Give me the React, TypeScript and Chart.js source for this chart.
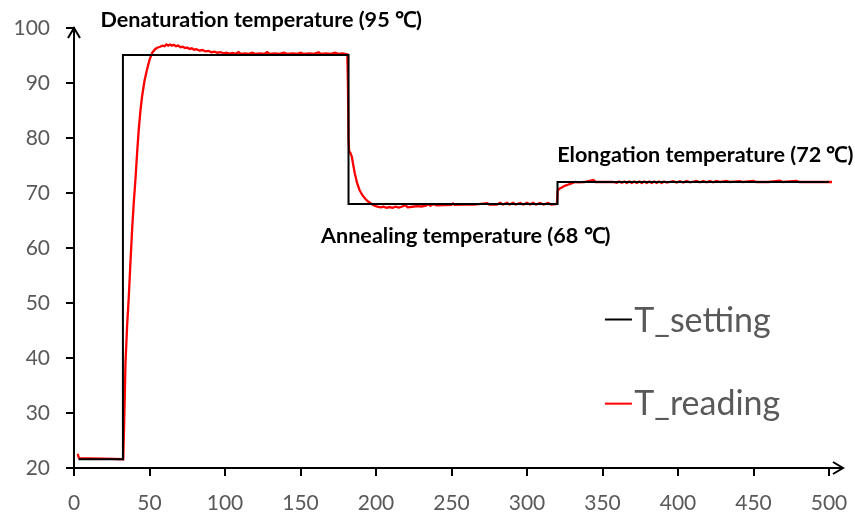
import React, { useEffect, useRef } from "react";
import { Chart, registerables } from "chart.js";

Chart.register(...registerables);

// ---- data ----
const xMin = 0;
const xMax = 500;
const xStep = 50;
const yMin = 20;
const yMax = 100;
const yStep = 10;

const seriesNames = ["T_setting", "T_reading"];

// T_setting (step profile)
const settingX = [3, 32.4, 32.4, 181.8, 181.8, 320.2, 320.2, 500];
const settingY = [21.6, 21.6, 95.1, 95.1, 68.0, 68.0, 72.0, 72.0];

// T_reading segments [x, y]
const readingStart = [[2.5, 22.6], [3, 22.0], [3.5, 21.8], [10, 21.75], [20, 21.7], [32.6, 21.6]];
const readingHeatUp = [[33.2, 28], [34.1, 39.1], [35.2, 46], [36.3, 51.2], [37.4, 57.5], [38.5, 63.4], [39.6, 68.3], [40.7, 72.5], [41.8, 77.3], [42.9, 81.6], [44, 85], [45.1, 87.6], [46.7, 90.4], [48.4, 92.5], [50, 94.2], [51.8, 95.5], [53.5, 96.1], [55.1, 96.4]];
const readingDenature = [[57, 96.6], [58.5, 96.8], [60, 96.7], [61.2, 97.0], [62.4, 96.8], [63.6, 97.0], [64.8, 96.8], [66, 96.95], [67.5, 96.7], [69, 96.8], [70.5, 96.5], [72, 96.6], [73.5, 96.35], [75, 96.45], [76.5, 96.2], [78, 96.3], [79.5, 96.05], [81, 96.15], [83, 95.9], [85, 96.0], [87, 95.75], [89, 95.85], [91, 95.6], [93, 95.7], [95, 95.5], [97, 95.6], [99, 95.4], [101, 95.5], [103, 95.35], [105, 95.45], [107, 95.3], [109, 95.6], [110.5, 95.3], [113, 95.4], [116, 95.3], [118, 95.5], [120, 95.3], [123, 95.4], [126, 95.3], [128, 95.6], [129.5, 95.3], [133, 95.4], [136, 95.3], [139, 95.5], [141, 95.3], [145, 95.4], [148, 95.3], [150, 95.5], [152, 95.3], [156, 95.4], [159, 95.3], [162, 95.6], [163.5, 95.3], [167, 95.4], [170, 95.3], [173, 95.5], [175, 95.3], [178, 95.4], [181, 95.2]];
const readingAnneal = [[181.4, 90], [181.8, 80], [182.2, 77.6], [183, 77.3], [184, 76.6], [185, 75], [186, 73.5], [187.5, 71.8], [189, 70.6], [191, 69.6], [193, 68.9], [195, 68.4], [197, 68.0], [199, 67.7], [201, 67.5], [203, 67.4], [205, 67.5], [207, 67.3], [209, 67.45], [211, 67.3], [213, 67.5], [215, 67.35], [217, 67.5], [219.5, 67.8], [221, 67.4], [224, 67.5], [227, 67.6], [230, 67.55], [233, 67.7], [234.7, 67.95], [236, 67.7], [238, 67.95], [240, 67.75], [245, 67.8], [250, 67.85], [251, 68.1], [252, 67.85], [258, 67.9], [265, 67.9], [273.7, 68.15], [275, 67.9], [280, 67.9], [282.3, 68.2], [284, 67.9], [286.8, 68.2], [288.5, 67.9], [290.8, 68.2], [292.5, 67.9], [295.5, 68.2], [297.5, 67.9], [300, 68.2], [302, 67.9], [304, 68.2], [306, 67.9], [308.6, 68.2], [311, 67.9], [313.9, 68.2], [316, 67.9], [319.8, 68.0]];
const readingElong = [[320.3, 70.4], [321.5, 70.8], [323, 71.0], [325, 71.3], [327, 71.5], [329, 71.7], [331.9, 72.0], [334, 71.95], [338, 72.0], [344, 72.35], [345.5, 72.0], [352, 72.0], [357, 72.0], [359.5, 71.85], [361, 72.1], [362.8, 71.85], [364.5, 72.1], [366.1, 71.85], [367.8, 72.1], [369.4, 71.85], [371, 72.1], [372.7, 71.85], [374.4, 72.1], [376, 71.85], [377.7, 72.1], [379.3, 71.85], [381, 72.1], [382.6, 71.85], [384.2, 72.1], [385.9, 71.85], [387.5, 72.1], [389.2, 71.85], [390.8, 72.1], [392.5, 71.9], [396.9, 72.15], [399, 71.9], [401.3, 72.15], [403.5, 71.9], [405.7, 72.2], [408, 71.95], [412.3, 72.2], [414.5, 71.95], [416.7, 72.2], [419, 71.95], [421.1, 72.2], [423.3, 71.95], [425.6, 72.2], [428, 72.0], [432.2, 72.2], [434.5, 72.0], [441, 72.15], [443, 72.0], [449.8, 72.2], [452, 72.0], [460, 72.0], [467.5, 72.25], [469.5, 72.0], [478.5, 72.2], [480.5, 72.0], [490, 72.0], [502, 72.0]];

const annotationTexts = [
  "Denaturation temperature (95 \u2103)",
  "Annealing temperature (68 \u2103)",
  "Elongation temperature (72 \u2103)",
];

const FONT = 'Lato, "Open Sans", sans-serif';
const GREY = "#595959";

const overlayPlugin = {
  id: "overlay",
  afterDraw(chart: any) {
    const { ctx, chartArea, scales } = chart;
    const { left, right, top, bottom } = chartArea;
    const sx = scales.x;
    const sy = scales.y;
    ctx.save();
    ctx.strokeStyle = "#000";
    ctx.lineWidth = 2;
    ctx.lineCap = "butt";
    // y axis arrow head
    ctx.beginPath();
    ctx.moveTo(left - 6, top + 10);
    ctx.lineTo(left, top);
    ctx.lineTo(left + 6, top + 10);
    ctx.stroke();
    // x axis extension + arrow head
    ctx.beginPath();
    ctx.moveTo(right, bottom);
    ctx.lineTo(right + 14, bottom);
    ctx.stroke();
    ctx.beginPath();
    ctx.moveTo(right + 4, bottom - 6);
    ctx.lineTo(right + 14, bottom);
    ctx.lineTo(right + 4, bottom + 6);
    ctx.stroke();

    // annotations
    ctx.fillStyle = "#000";
    ctx.font = `bold 21.6px ${FONT}`;
    ctx.textAlign = "left";
    ctx.textBaseline = "alphabetic";
    const anchors = [
      [17.5, 100.2],
      [163.6, 60.9],
      [320, 75.6],
    ];
    annotationTexts.forEach((t, i) => {
      ctx.fillText(t, sx.getPixelForValue(anchors[i][0]), sy.getPixelForValue(anchors[i][1]));
    });

    // legend
    const colors = ["#000000", "#FF0000"];
    const legendY = [47.0, 31.7];
    const legendBase = [44.8, 29.65];
    ctx.font = `34px ${FONT}`;
    ctx.fillStyle = GREY;
    seriesNames.forEach((n, i) => {
      const ly = sy.getPixelForValue(legendY[i]);
      ctx.strokeStyle = colors[i];
      ctx.lineWidth = 2;
      ctx.beginPath();
      ctx.moveTo(sx.getPixelForValue(351.6), ly);
      ctx.lineTo(sx.getPixelForValue(369.5), ly);
      ctx.stroke();
      ctx.fillText(n, sx.getPixelForValue(371.0), sy.getPixelForValue(legendBase[i]));
    });
    ctx.restore();
  },
};

export default function App() {
  const ref = useRef<HTMLCanvasElement>(null);
  useEffect(() => {
    if (!ref.current) return;
    const settingData = settingX.map((x, i) => ({ x, y: settingY[i] }));
    const readingData = [...readingStart, ...readingHeatUp, ...readingDenature, ...readingAnneal, ...readingElong].map(
      ([x, y]) => ({ x, y })
    );
    const chart = new Chart(ref.current, {
      type: "line",
      data: {
        datasets: [
          {
            label: seriesNames[0],
            data: settingData,
            borderColor: "#000000",
            borderWidth: 2,
            pointRadius: 0,
            tension: 0,
            clip: false,
          },
          {
            label: seriesNames[1],
            data: readingData,
            borderColor: "#FF0000",
            borderWidth: 2.3,
            pointRadius: 0,
            tension: 0,
            clip: false,
          },
        ],
      },
      options: {
        responsive: false,
        animation: false,
        layout: { padding: { top: 28, right: 26, left: 0, bottom: 0 } },
        plugins: { legend: { display: false }, tooltip: { enabled: false } },
        scales: {
          x: {
            type: "linear",
            min: xMin,
            max: xMax,
            afterFit: (s: any) => {
              s.height = 44;
              s.paddingLeft = 0;
              s.paddingRight = 0;
            },
            ticks: { stepSize: xStep, color: GREY, font: { family: FONT, size: 21 }, padding: 15, autoSkip: false, maxRotation: 0 },
            grid: { display: true, drawOnChartArea: false, drawTicks: true, tickLength: 8, color: "#000", lineWidth: 2 },
            border: { display: true, color: "#000", width: 2 },
          },
          y: {
            type: "linear",
            min: yMin,
            max: yMax,
            afterFit: (s: any) => {
              s.width = 74;
              s.paddingTop = 0;
              s.paddingBottom = 0;
            },
            ticks: { stepSize: yStep, color: GREY, font: { family: FONT, size: 21 }, padding: 16 },
            grid: { display: true, drawOnChartArea: false, drawTicks: true, tickLength: 8, color: "#000", lineWidth: 2 },
            border: { display: true, color: "#000", width: 2 },
          },
        },
      },
      plugins: [overlayPlugin],
    });
    return () => chart.destroy();
  }, []);
  return (
    <div style={{ position: "fixed", left: 0, top: 0, width: 855, height: 512, background: "#fff" }}>
      <canvas ref={ref} width={855} height={512} style={{ width: 855, height: 512 }} />
    </div>
  );
}
